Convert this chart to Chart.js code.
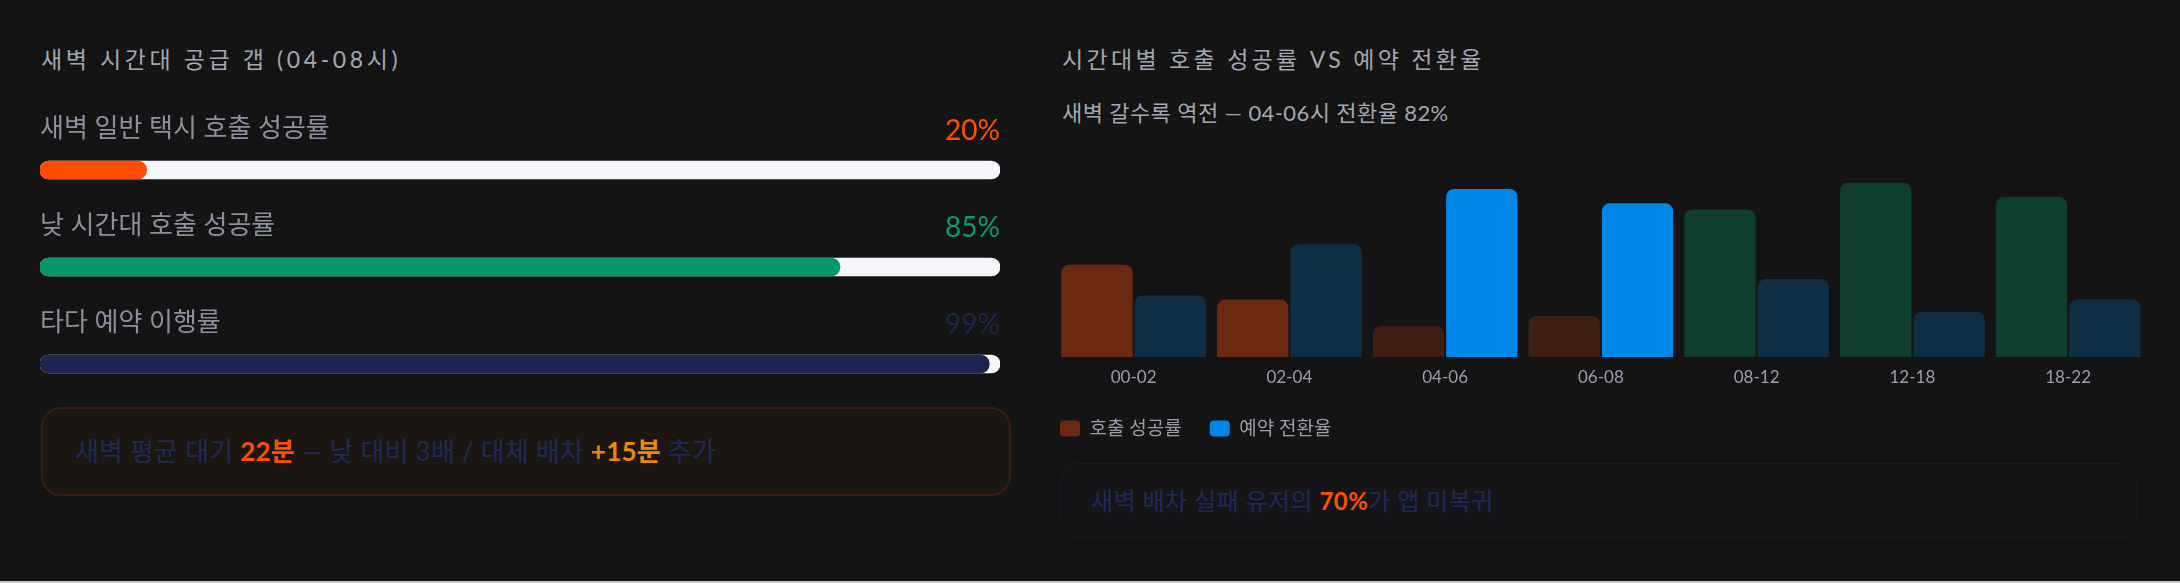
<!DOCTYPE html>
<html><head><meta charset="utf-8">
<script src="https://cdn.jsdelivr.net/npm/chart.js@4.4.1/dist/chart.umd.min.js"></script>
<style>
html,body{margin:0;padding:0;background:#c8c8c8;}
#wrap{position:relative;width:2180px;height:581px;background:#141414;overflow:hidden;font-family:Lato,"Noto Sans CJK KR",sans-serif;}
.t{position:absolute;white-space:nowrap;}
.title{top:44px;height:30px;line-height:30px;font-size:23px;color:#a3a6b3;}
.sub{left:1062px;top:98px;height:30px;line-height:30px;font-size:22px;letter-spacing:0.4px;color:#a3a6b3;}
canvas{position:absolute;}
.box{position:absolute;box-sizing:border-box;color:#1f2b57;white-space:nowrap;}
#boxL{left:41px;top:407px;width:970px;height:89px;line-height:85px;font-size:26px;letter-spacing:0.2px;border:2px solid #3a1d11;border-radius:20px;background:#1c1613;padding-left:32px;}
#boxR{left:1060px;top:463px;width:1077px;height:75px;line-height:73px;font-size:24px;letter-spacing:0.4px;border:1px solid #191a24;border-radius:16px;background:#151517;padding-left:30px;}
b{font-weight:700;}
</style></head>
<body>
<div id="wrap">
  <div class="t title" style="left:41px;letter-spacing:3.6px;">새벽 시간대 공급 갭 (04-08시)</div>
  <div class="t title" style="left:1062px;letter-spacing:3.3px;">시간대별 호출 성공률 VS 예약 전환율</div>
  <div class="t sub">새벽 갈수록 역전 — 04-06시 전환율 82%</div>
  <canvas id="gap" width="960" height="340" style="left:40px;top:80px;width:960px;height:340px;"></canvas>
  <canvas id="hours" width="1128" height="308" style="left:1032px;top:140px;width:1128px;height:308px;"></canvas>
  <div class="box" id="boxL">새벽 평균 대기 <b style="color:#ff5000">22분</b> — 낮 대비 3배 / 대체 배차 <b style="color:#e8890c">+15분</b> 추가</div>
  <div class="box" id="boxR">새벽 배차 실패 유저의 <b style="color:#ff5000">70%</b>가 앱 미복귀</div>
</div>
<script>
// ---- data: left panel (supply gap) ----
const gapLabels = ['새벽 일반 택시 호출 성공률', '낮 시간대 호출 성공률', '타다 예약 이행률'];
const gapValues = [20, 85, 99];
const gapTrack = [100, 100, 100];
const gapColors = ['#ff4d00', '#06966b', '#1b2550'];
const gapTextColors = ['#ff5200', '#0b9b6e', '#1b2550'];
const GAP_AXIS_MIN = 10;

// ---- data: right panel (by hour) ----
const hours = ['00-02', '02-04', '04-06', '06-08', '08-12', '12-18', '18-22'];
const callSuccess = [45, 28, 15, 20, 72, 85, 78];
const bookingConv = [30, 55, 82, 75, 38, 22, 28];
const successColors = ['#6b2a10', '#6b2a10', '#3f1f13', '#3f1f13', '#0f3d2e', '#0f3d2e', '#0f3d2e'];
const convColors = ['#0f2f47', '#0f2f47', '#0085e9', '#0085e9', '#0f2f47', '#0f2f47', '#0f2f47'];
const seriesNames = ['호출 성공률', '예약 전환율'];
const legendColors = ['#6b2a10', '#0085e9'];

const FONT = "Lato, 'Noto Sans CJK KR', sans-serif";
Chart.defaults.font.family = FONT;

const gapLabelPlugin = {
  id: 'gapLabels',
  afterDatasetsDraw(chart) {
    const ctx = chart.ctx;
    const y = chart.scales.y;
    const area = chart.chartArea;
    ctx.save();
    ctx.textBaseline = 'middle';
    gapLabels.forEach((lab, i) => {
      const py = y.getPixelForValue(i);
      ctx.font = "26px " + FONT;
      ctx.fillStyle = '#8c8f9d';
      ctx.textAlign = 'left';
      ctx.fillText(lab, area.left, py - 41);
      ctx.font = "28px " + FONT;
      ctx.fillStyle = gapTextColors[i];
      ctx.textAlign = 'right';
      ctx.fillText(gapValues[i] + '%', area.right, py - 39);
    });
    ctx.restore();
  }
};

new Chart(document.getElementById('gap'), {
  type: 'bar',
  data: {
    labels: gapLabels,
    datasets: [
      { data: gapValues, backgroundColor: gapColors, base: GAP_AXIS_MIN, borderRadius: 9, borderSkipped: false, barThickness: 18, grouped: false },
      { data: gapTrack, backgroundColor: '#f4f6fb', base: GAP_AXIS_MIN, borderRadius: 9, borderSkipped: false, barThickness: 18, grouped: false }
    ]
  },
  options: {
    indexAxis: 'y',
    responsive: false,
    animation: false,
    devicePixelRatio: 1,
    layout: { padding: { top: 41.5, bottom: 7.5, left: 0, right: 0 } },
    plugins: { legend: { display: false }, tooltip: { enabled: false } },
    scales: {
      x: { display: false, min: GAP_AXIS_MIN, max: 100 },
      y: { display: false }
    }
  },
  plugins: [gapLabelPlugin]
});

new Chart(document.getElementById('hours'), {
  type: 'bar',
  data: {
    labels: hours,
    datasets: [
      { label: seriesNames[0], data: callSuccess, backgroundColor: successColors, borderRadius: 8, categoryPercentage: 0.9415, barPercentage: 0.973 },
      { label: seriesNames[1], data: bookingConv, backgroundColor: convColors, borderRadius: 8, categoryPercentage: 0.9415, barPercentage: 0.973 }
    ]
  },
  options: {
    responsive: false,
    animation: false,
    devicePixelRatio: 1,
    layout: { padding: { top: 12, right: 14, left: 0, bottom: 0 } },
    plugins: {
      tooltip: { enabled: false },
      legend: {
        position: 'bottom',
        align: 'start',
        labels: {
          color: '#9a9eab',
          font: { size: 19 },
          boxWidth: 20,
          boxHeight: 16,
          padding: 28,
          useBorderRadius: true,
          borderRadius: 4,
          generateLabels(chart) {
            return chart.data.datasets.map((ds, i) => ({
              text: ds.label,
              fillStyle: legendColors[i],
              strokeStyle: legendColors[i],
              lineWidth: 0,
              borderRadius: 4,
              hidden: false,
              datasetIndex: i,
              fontColor: '#9a9eab'
            }));
          }
        }
      }
    },
    scales: {
      x: {
        grid: { display: false, drawTicks: false },
        border: { display: false },
        ticks: { color: '#9a9eab', font: { size: 17 }, padding: 10 },
        afterFit(s) { s.height = 34; }
      },
      y: {
        min: 0, max: 100,
        grid: { display: false, drawTicks: false },
        border: { display: false },
        ticks: { display: false },
        afterFit(s) { s.width = 23.75; }
      }
    }
  }
});
</script>
</body></html>
